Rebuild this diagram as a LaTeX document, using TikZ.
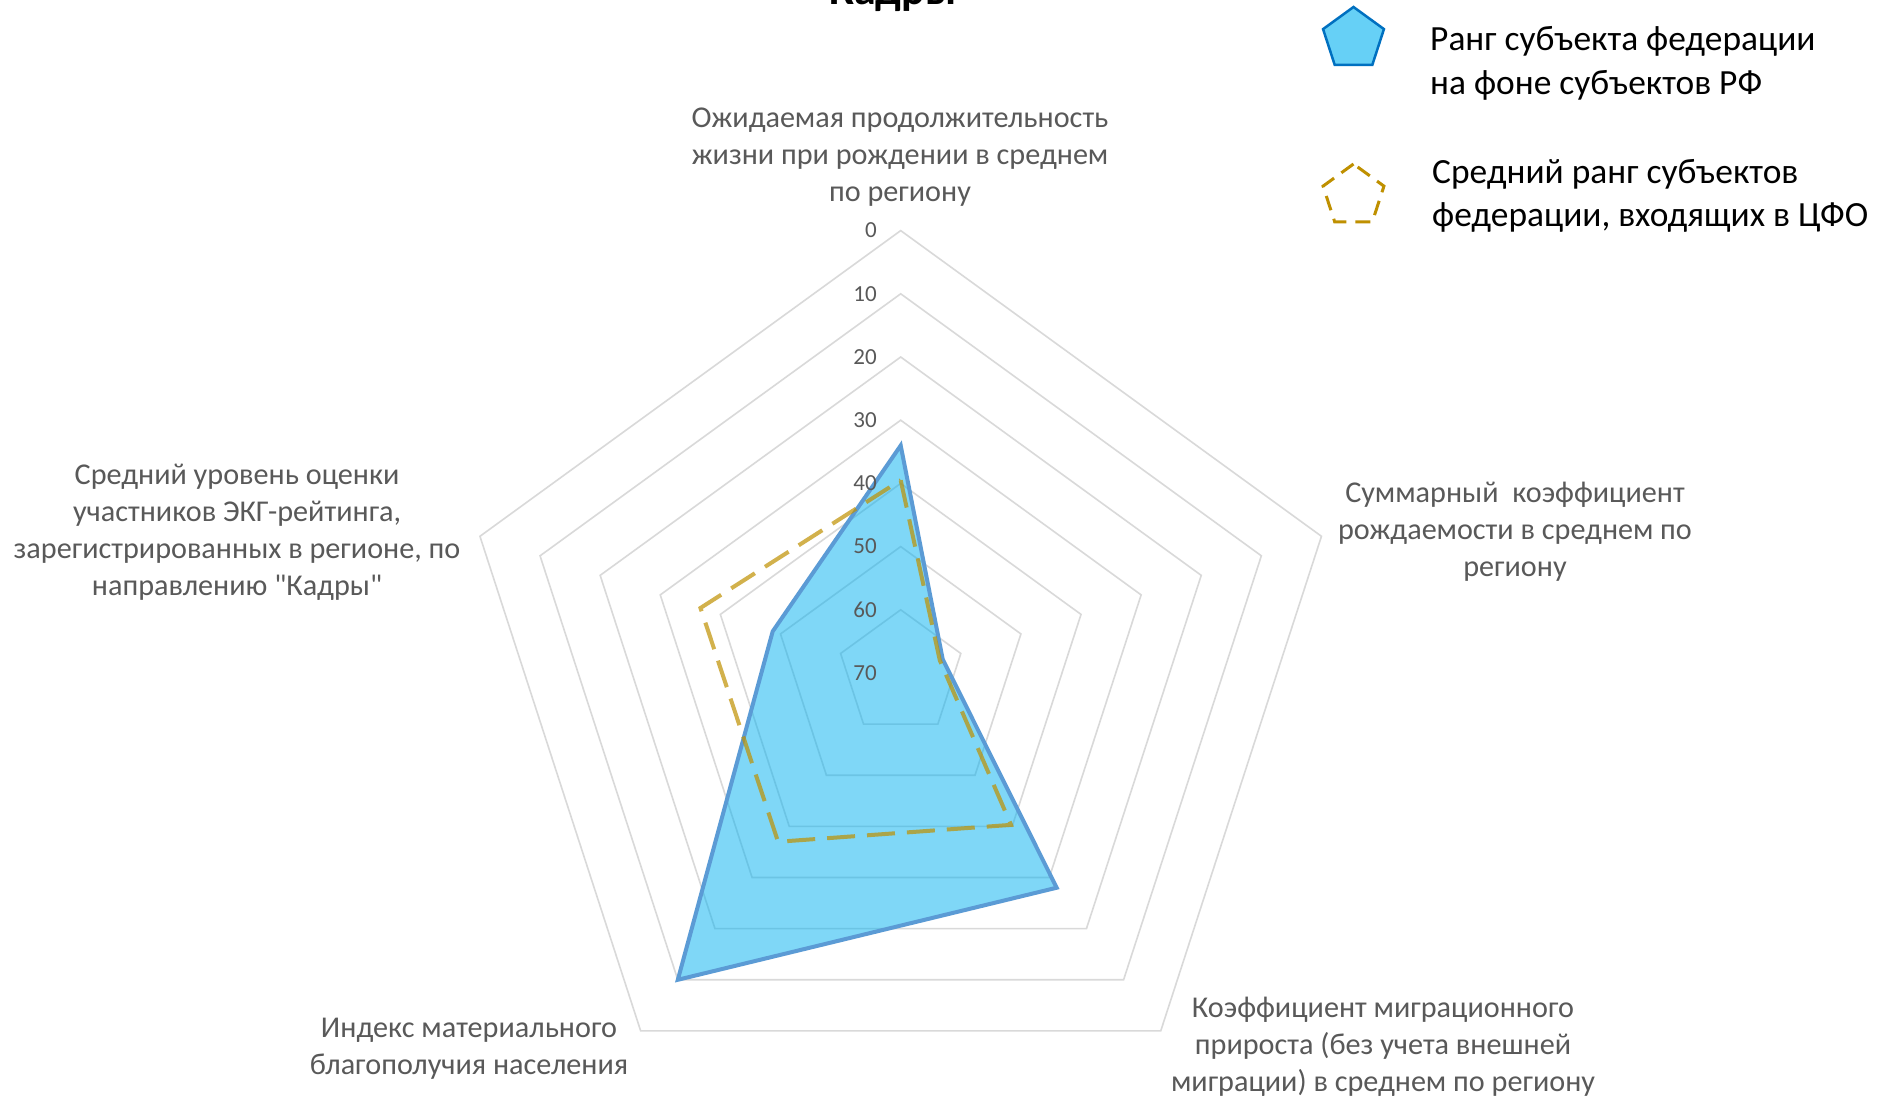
\documentclass[tikz,border=0pt]{standalone}
\usepackage{fontspec}
\setmainfont{Carlito}[Ligatures=TeXOff]
\usetikzlibrary{calc,shapes.geometric}
\definecolor{gridc}{HTML}{D9D9D9}
\definecolor{labc}{HTML}{595959}
\definecolor{bluefill}{HTML}{00B0F0}
\definecolor{blueline}{HTML}{5B9BD5}
\definecolor{goldc}{HTML}{BF9000}
\definecolor{legblue}{HTML}{0070C0}
\begin{document}
\begin{tikzpicture}[x=1pt,y=-1pt,
  gridline/.style={draw=gridc, line width=1.6pt, line join=miter},
  axlab/.style={text=labc, font=\fontsize{30.2}{37}\selectfont, align=center, inner sep=0pt},
  ticklab/.style={text=labc, font=\fontsize{23}{27}\selectfont, anchor=east, inner sep=0pt},
  legtext/.style={text=black, font=\fontsize{35.4}{43.5}\selectfont, align=left, anchor=west, inner sep=0pt},
  seriesA/.style={draw=blueline, line width=4pt, fill=bluefill, fill opacity=0.5, line join=miter},
  seriesB/.style={draw=goldc, draw opacity=0.7, line width=4pt, dash pattern=on 28pt off 12pt, line join=miter},
  legicon/.style={regular polygon, regular polygon sides=5, minimum size=64pt, inner sep=0pt}]
\useasboundingbox (0,0) rectangle (1896,1100);
\fill[white] (0,0) rectangle (1896,1100);

% title (cut off at the top)
\node[font=\fontsize{44}{50}\selectfont\bfseries, anchor=base] (title) at (893,5) {Кадры};

\coordinate (C) at (900.7,673);
\begin{scope}[shift={(C)}]
  % grid rings 0..60
  \foreach \v in {0,10,20,30,40,50,60} {
    \pgfmathsetmacro{\r}{(70-\v)*6.32}
    \draw[gridline] (-90:\r) -- (-18:\r) -- (54:\r) -- (126:\r) -- (198:\r) -- cycle;
  }
  % series: rank of the subject
  \coordinate (a1) at (-90:227.5);
  \coordinate (a2) at (-18:44.2);
  \coordinate (a3) at (54:265.4);
  \coordinate (a4) at (126:379.2);
  \coordinate (a5) at (198:134.6);
  \path[seriesA] (a1) -- (a2) -- (a3) -- (a4) -- (a5) -- cycle;
  % series: average rank in the district
  \coordinate (b1) at (-90:192.8);
  \coordinate (b2) at (-18:41.1);
  \coordinate (b3) at (54:187.7);
  \coordinate (b4) at (126:208.6);
  \coordinate (b5) at (198:210.5);
  \path[seriesB] (b1) -- (b2) -- (b3) -- (b4) -- (b5) -- cycle;
\end{scope}

% tick labels
\foreach \v in {0,10,20,30,40,50,60,70} {
  \pgfmathsetmacro{\yy}{673-(70-\v)*6.32}
  \node[ticklab] (t\v) at (877,\yy) {\v};
}

% axis labels
\node[axlab] (ax1) at (900,157) {Ожидаемая продолжительность\\жизни при рождении в среднем\\по региону};
\node[axlab] (ax2) at (1515,532) {Суммарный\ \ коэффициент\\рождаемости в среднем по\\региону};
\node[axlab] (ax3) at (1383,1047) {Коэффициент миграционного\\прироста (без учета внешней\\миграции) в среднем по региону};
\node[axlab] (ax4) at (469,1049) {Индекс материального\\благополучия населения};
\node[axlab] (ax5) at (237,532) {Средний уровень оценки\\участников ЭКГ-рейтинга,\\зарегистрированных в регионе, по\\направлению "Кадры"};

% legend
\node[legicon, draw=legblue, line width=2.5pt, fill=bluefill!60] (legA) at (1353.5,39) {};
\node[legtext] (legAt) at (1430,63.5) {Ранг субъекта федерации\\на фоне субъектов РФ};
\node[legicon, draw=goldc, line width=3pt, dash pattern=on 15pt off 9pt] (legB) at (1353.5,196) {};
\node[legtext] (legBt) at (1432,196) {Средний ранг субъектов\\федерации, входящих в ЦФО};
\end{tikzpicture}
\end{document}
